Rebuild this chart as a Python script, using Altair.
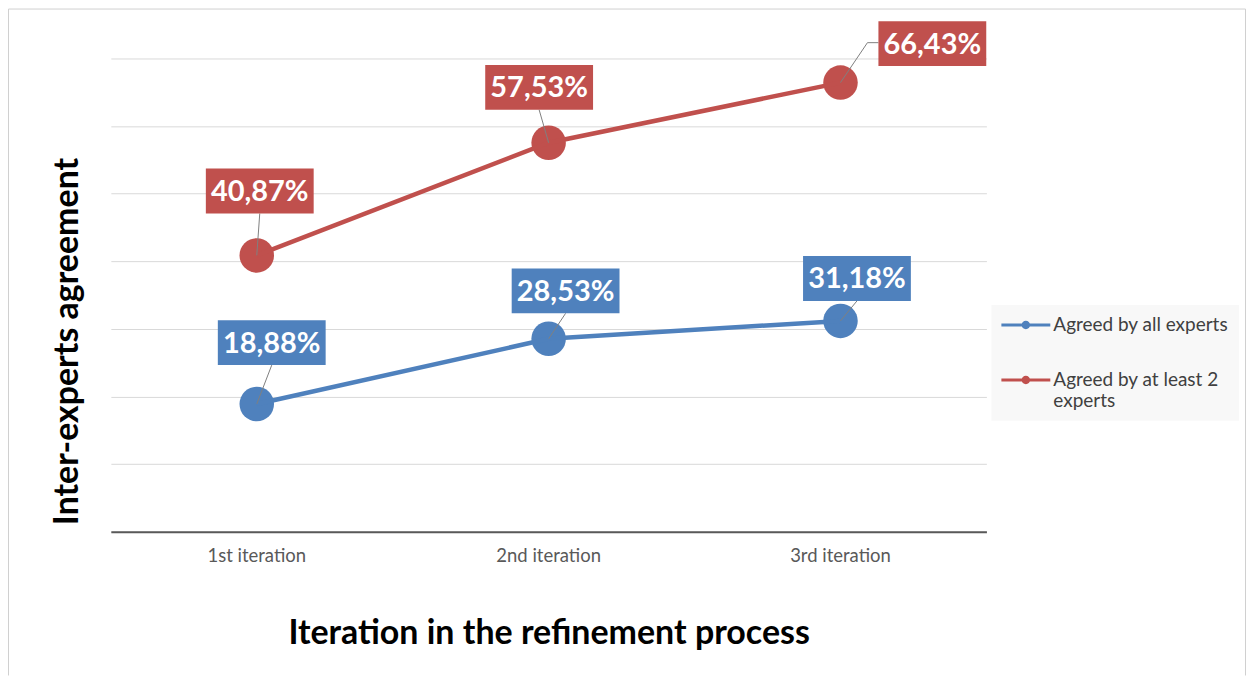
import altair as alt
import pandas as pd

iterations = ["1st iteration", "2nd iteration", "3rd iteration"]
series_names = ["Agreed by all experts", "Agreed by at least 2 experts"]
agreed_all = [18.88, 28.53, 31.18]
agreed_two = [40.87, 57.53, 66.43]
series_colors = ["#4f81bd", "#c0504d"]
y_grid_values = [0, 10, 20, 30, 40, 50, 60, 70]

rows = []
for name, vals in zip(series_names, [agreed_all, agreed_two]):
    for it, v in zip(iterations, vals):
        rows.append({"series": name, "iteration": it, "value": v})
df = pd.DataFrame(rows)

# pixel nudges of each data label box (centre) from its point
label_nudge = {
    (0, 0): (15, -61.5),
    (0, 1): (17, -48),
    (0, 2): (16.5, -42.5),
    (1, 0): (3, -64.5),
    (1, 1): (-9.5, -55.5),
    (1, 2): (92, -39),
}
BOX_W, BOX_H = 108, 45
BOX_PATH = "M-1,-{h}L1,-{h}L1,{h}L-1,{h}Z".format(h=round(BOX_H / BOX_W, 4))
# legend glyph: line with a dot, drawn at scale 10 px / unit (symbolSize 400)
LEGEND_SYMBOL = ("M-1,-0.15L3.9,-0.15L3.9,0.15L-1,0.15Z "
                 "M1.03,0A0.42,0.42 0 1,1 1.87,0A0.42,0.42 0 1,1 1.03,0Z")

W, H = 877, 474
FONT = "Lato"

base = alt.Chart(df).transform_calculate(
    label="replace(format(datum.value, '.2f'), '.', ',') + '%'"
)

x_enc = alt.X(
    "iteration:N",
    scale=alt.Scale(domain=iterations),
    axis=alt.Axis(
        title="Iteration in the refinement process",
        titleFont=FONT, titleFontSize=34, titleFontWeight="bold", titleColor="#000000",
        titleX=W / 2, titleY=102, titleBaseline="middle", titleAlign="center",
        labelFont=FONT, labelFontSize=18.5, labelColor="#595959", labelPadding=15,
        labelAngle=0, ticks=False, grid=False,
        domainColor="#595959", domainWidth=2,
    ),
)
y_enc = alt.Y(
    "value:Q",
    scale=alt.Scale(domain=[0, 70], nice=False, zero=True),
    axis=alt.Axis(
        title="Inter-experts agreement",
        titleFont=FONT, titleFontSize=34, titleFontWeight="bold", titleColor="#000000",
        titleX=-43, titleY=283, titleAlign="center", titleBaseline="middle",
        labels=False, ticks=False, domain=False, grid=True,
        gridColor="#d9d9d9", gridWidth=1, values=y_grid_values,
    ),
)

color_enc = alt.Color(
    "series:N",
    scale=alt.Scale(domain=series_names, range=series_colors),
    legend=alt.Legend(
        title=None, orient="none", legendX=882, legendY=247,
        fillColor="#f8f8f8", padding=10,
        symbolType=LEGEND_SYMBOL, symbolSize=400, symbolStrokeWidth=0,
        symbolFillColor="#888888", symbolOpacity=1,
        labelFont=FONT, labelFontSize=19, labelColor="#404040",
        labelLimit=400, rowPadding=35, labelOffset=32,
        labelExpr="datum.label == 'Agreed by at least 2 experts' ? ['Agreed by at least 2', 'experts'] : datum.label",
    ),
)

points = base.mark_circle(size=1195, opacity=1).encode(x=x_enc, y=y_enc, color=color_enc)
line = base.mark_line(strokeWidth=4.5).encode(x=x_enc, y=y_enc, color=color_enc)

layers = [points, line]
for si, name in enumerate(series_names):
    for ii, it in enumerate(iterations):
        dx, dy = label_nudge[(si, ii)]
        sub = base.transform_filter(
            (alt.datum.series == name) & (alt.datum.iteration == it)
        )
        color = series_colors[si]
        if si == 1 and ii == 2:
            leaders = [
                sub.mark_rule(color="#808080", strokeWidth=1, x2Offset=27, y2Offset=-40).encode(
                    x=x_enc, y=y_enc, x2="iteration:N", y2="value:Q"),
                sub.mark_rule(color="#808080", strokeWidth=1, xOffset=27, yOffset=-40,
                              x2Offset=dx - BOX_W / 2, y2Offset=-40).encode(
                    x=x_enc, y=y_enc, x2="iteration:N", y2="value:Q"),
            ]
        else:
            leaders = [
                sub.mark_rule(color="#808080", strokeWidth=1,
                              x2Offset=dx, y2Offset=dy + BOX_H / 2).encode(
                    x=x_enc, y=y_enc, x2="iteration:N", y2="value:Q"),
            ]
        box = sub.mark_point(shape=BOX_PATH, size=BOX_W ** 2, filled=True, opacity=1,
                             color=color, strokeWidth=0, xOffset=dx, yOffset=dy).encode(
            x=x_enc, y=y_enc)
        txt = sub.mark_text(dx=dx, dy=dy + 1, font=FONT, fontSize=29, fontWeight="bold",
                            color="#ffffff", align="center", baseline="middle").encode(
            x=x_enc, y=y_enc, text="label:N")
        layers += leaders + [box, txt]

frame_data = alt.Data(values=[{"f": 1}])
frame_color = "#d0d0d0"
frame = [
    alt.Chart(frame_data).mark_rule(color=frame_color, strokeWidth=1).encode(
        x=alt.value(-102.5), y=alt.value(-49.5), y2=alt.value(H + 144)),
    alt.Chart(frame_data).mark_rule(color=frame_color, strokeWidth=1).encode(
        x=alt.value(-102.5), x2=alt.value(W + 259.5), y=alt.value(-49.5)),
    alt.Chart(frame_data).mark_rule(color=frame_color, strokeWidth=1).encode(
        x=alt.value(W + 259.5), y=alt.value(-49.5), y2=alt.value(H + 144)),
]

chart = alt.layer(*frame, *layers).properties(
    width=W, height=H,
    autosize=alt.AutoSizeParams(type="none"),
    padding={"left": 103, "top": 50, "right": 260, "bottom": 144},
    background="#ffffff",
).configure_view(strokeWidth=0)

chart.save("out.html", embed_options={"renderer": "svg", "actions": False})
